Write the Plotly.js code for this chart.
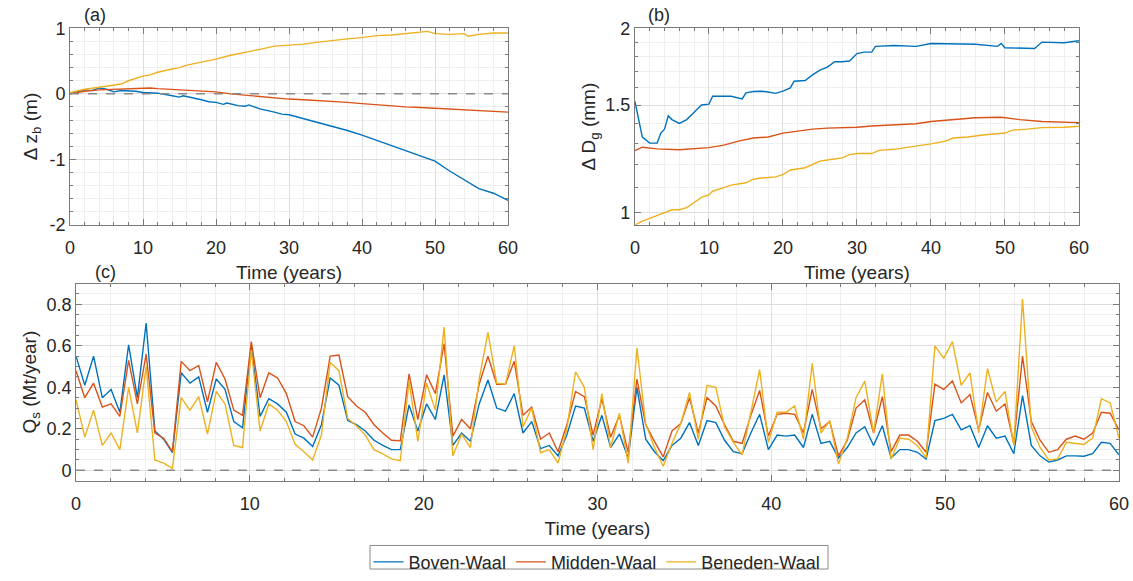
<!DOCTYPE html>
<html>
<head>
<meta charset="utf-8">
<script src="https://cdn.plot.ly/plotly-3.0.1.min.js"></script>
<style>
  html, body { margin: 0; padding: 0; background: #ffffff; }
  #chart { width: 1133px; height: 581px; }
</style>
</head>
<body>
<div id="chart"></div>
<script>
// Waal river reaches
const reaches = ['Boven-Waal', 'Midden-Waal', 'Beneden-Waal'];
const colors = ['#0072BD', '#D95319', '#EDB120'];

// (a) Bed level change Δz_b (m)
const tBedBoven = [0,1,2,3,4,5,6,7,8,9,10,12,14,15,15.5,17,18,19,20,21,21.5,23,24,24.5,26,28,29,30,32,34,36,38,40,42,44,46,48,50,52,54,56,58,60];
const bedBoven  = [0,0.03,0.06,0.05,0.09,0.07,0.03,0.05,0.05,0.04,0.02,0.01,-0.03,-0.05,-0.03,-0.06,-0.09,-0.12,-0.13,-0.16,-0.14,-0.18,-0.19,-0.17,-0.23,-0.28,-0.31,-0.32,-0.38,-0.43,-0.49,-0.56,-0.63,-0.71,-0.78,-0.86,-0.95,-1.03,-1.18,-1.32,-1.45,-1.52,-1.63];
const tBedMidden = [0,2,4,6,8,10,11,12,14,16,18,20,22,24,26,28,30,32,34,36,38,40,42,44,46,48,50,52,54,56,58,60];
const bedMidden  = [0,0.04,0.06,0.07,0.08,0.09,0.09,0.08,0.07,0.05,0.04,0.03,0.0,-0.02,-0.05,-0.07,-0.08,-0.09,-0.1,-0.11,-0.13,-0.15,-0.17,-0.19,-0.2,-0.21,-0.22,-0.235,-0.25,-0.26,-0.27,-0.28];
const tBedBeneden = [0,2,4,6,7,8,9,10,11,12,14,15,16,18,20,22,24,26,28,30,32,34,36,38,40,42,44,46,48,49,50,52,54,54.5,56,58,60];
const bedBeneden  = [0.02,0.07,0.1,0.13,0.15,0.2,0.24,0.27,0.29,0.33,0.38,0.4,0.44,0.48,0.53,0.59,0.63,0.68,0.73,0.74,0.76,0.79,0.82,0.84,0.86,0.89,0.9,0.92,0.94,0.955,0.92,0.91,0.92,0.88,0.91,0.93,0.93];
const bedTicks = [-2, -1, 0, 1];
const bedTickText = ['-2', '-1', '0', '1'];

// (b) Geometric mean grain size D_g (mm)
const tDgBoven = [0,0.5,1,2,3,3.5,4,4.5,5,6,7,8,9,10,10.5,12,13,14.5,15,16,17,18,19,20,21,21.5,23,24,25,26,27,28,29,30,31,32,32.5,35,38,40,44,46,49,49.5,50,52,54,55,58,60];
const dgBoven  = [1.52,1.43,1.33,1.30,1.30,1.35,1.37,1.44,1.42,1.40,1.42,1.46,1.50,1.505,1.55,1.55,1.55,1.535,1.57,1.578,1.58,1.575,1.567,1.58,1.60,1.64,1.645,1.68,1.71,1.73,1.765,1.765,1.77,1.82,1.83,1.83,1.87,1.876,1.87,1.89,1.885,1.885,1.87,1.89,1.86,1.86,1.855,1.90,1.895,1.91];
const tDgMidden = [0,1,3,6,10,12,14,16,18,20,22,24,26,28,30,32,35,38,40,43,46,49.5,52,55,60];
const dgMidden  = [1.264,1.28,1.272,1.268,1.278,1.29,1.31,1.325,1.33,1.35,1.36,1.37,1.375,1.376,1.38,1.386,1.39,1.398,1.41,1.42,1.43,1.433,1.42,1.41,1.404];
const tDgBeneden = [0,1,2,3,4,5,6,7,8,9,10,10.5,12,13,15,16,17,19,20,21,23,24,25,26,28,29,30,32,33,35,37,39,40,42,43,45,47,50,51,53,55,58,60];
const dgBeneden  = [0.955,0.97,0.98,0.99,1.0,1.012,1.012,1.02,1.04,1.06,1.07,1.085,1.10,1.11,1.12,1.135,1.14,1.145,1.155,1.175,1.185,1.20,1.215,1.22,1.23,1.245,1.25,1.25,1.265,1.27,1.28,1.29,1.296,1.31,1.325,1.33,1.34,1.35,1.365,1.37,1.378,1.38,1.385];
const dgTicks = [1, 1.5, 2];
const dgTickText = ['1', '1.5', '2'];
const dgMinorTicks = [1.1, 1.2, 1.3, 1.4, 1.6, 1.7, 1.8, 1.9];

// (c) Sediment transport Q_s (Mt/year), 120 equally spaced outputs over 60 years
const nOut = 120;
const tQs = Array.from({length: nOut}, (_, i) => i * 60 / (nOut - 1));
const qsBoven = [0.55,0.41,0.55,0.35,0.39,0.28,0.605,0.35,0.71,0.19,0.15,0.085,0.47,0.42,0.45,0.28,0.44,0.39,0.235,0.205,
  0.60,0.26,0.345,0.32,0.28,0.175,0.155,0.115,0.22,0.445,0.41,0.24,0.22,0.19,0.145,0.12,0.10,0.10,0.315,0.19,
  0.32,0.245,0.46,0.12,0.18,0.14,0.32,0.435,0.30,0.285,0.37,0.18,0.235,0.105,0.12,0.07,0.17,0.31,0.30,0.14,
  0.265,0.11,0.175,0.06,0.40,0.15,0.09,0.047,0.12,0.155,0.23,0.12,0.24,0.23,0.145,0.09,0.08,0.18,0.27,0.10,
  0.17,0.165,0.17,0.11,0.27,0.13,0.14,0.06,0.11,0.18,0.21,0.12,0.215,0.06,0.10,0.10,0.087,0.055,0.24,0.25,
  0.27,0.195,0.215,0.11,0.215,0.155,0.165,0.08,0.36,0.12,0.07,0.04,0.05,0.07,0.07,0.068,0.08,0.135,0.13,0.075];
const qsMidden = [0.48,0.35,0.42,0.305,0.32,0.26,0.53,0.32,0.56,0.18,0.155,0.09,0.525,0.48,0.505,0.33,0.52,0.44,0.29,0.265,
  0.62,0.35,0.47,0.445,0.37,0.235,0.215,0.16,0.30,0.55,0.555,0.355,0.31,0.28,0.22,0.18,0.145,0.142,0.465,0.245,
  0.46,0.37,0.61,0.165,0.245,0.20,0.415,0.55,0.415,0.415,0.525,0.265,0.305,0.15,0.18,0.09,0.22,0.38,0.355,0.17,
  0.345,0.16,0.265,0.087,0.44,0.22,0.14,0.065,0.19,0.225,0.35,0.18,0.35,0.31,0.22,0.14,0.13,0.265,0.385,0.165,
  0.27,0.275,0.27,0.18,0.39,0.20,0.235,0.07,0.145,0.30,0.34,0.18,0.355,0.09,0.17,0.17,0.14,0.087,0.415,0.39,
  0.43,0.325,0.365,0.195,0.375,0.285,0.32,0.13,0.55,0.235,0.145,0.087,0.10,0.15,0.165,0.15,0.18,0.28,0.275,0.195];
const qsBeneden = [0.34,0.16,0.29,0.12,0.18,0.10,0.40,0.18,0.50,0.05,0.035,0.01,0.35,0.29,0.355,0.175,0.38,0.32,0.12,0.11,
  0.58,0.19,0.32,0.29,0.235,0.125,0.09,0.05,0.17,0.52,0.48,0.25,0.215,0.17,0.10,0.08,0.055,0.047,0.43,0.14,
  0.42,0.29,0.69,0.07,0.175,0.11,0.44,0.665,0.42,0.415,0.60,0.21,0.30,0.085,0.10,0.035,0.20,0.475,0.40,0.10,
  0.37,0.11,0.275,0.035,0.59,0.225,0.11,0.02,0.13,0.225,0.375,0.15,0.41,0.40,0.21,0.135,0.075,0.28,0.485,0.135,
  0.28,0.28,0.31,0.15,0.515,0.18,0.24,0.03,0.155,0.35,0.43,0.18,0.465,0.055,0.155,0.15,0.12,0.06,0.60,0.54,
  0.62,0.41,0.47,0.18,0.49,0.33,0.38,0.12,0.825,0.21,0.11,0.05,0.055,0.135,0.13,0.125,0.155,0.345,0.325,0.155];
const qsTicks = [0, 0.2, 0.4, 0.6, 0.8];
const timeTicks = [0, 10, 20, 30, 40, 50, 60];

const FONT = 'Liberation Sans, Arial, Helvetica, sans-serif';
const TXT = '#262626';
const GRID = '#dedede';
const MINOR = '#efefef';
const AXLINE = '#7a7a7a';
const W = 1133, H = 581;

function line(x, y, i, xa, ya, legend) {
  return {
    x: x, y: y, type: 'scatter', mode: 'lines',
    name: reaches[i], xaxis: xa, yaxis: ya,
    line: {color: colors[i], width: 1.4},
    showlegend: legend, hoverinfo: 'skip'
  };
}

const traces = [
  line(tBedBoven, bedBoven, 0, 'x', 'y', false),
  line(tBedMidden, bedMidden, 1, 'x', 'y', false),
  line(tBedBeneden, bedBeneden, 2, 'x', 'y', false),
  line(tDgBoven, dgBoven, 0, 'x2', 'y2', false),
  line(tDgMidden, dgMidden, 1, 'x2', 'y2', false),
  line(tDgBeneden, dgBeneden, 2, 'x2', 'y2', false),
  line(tQs, qsBoven, 0, 'x3', 'y3', true),
  line(tQs, qsMidden, 1, 'x3', 'y3', true),
  line(tQs, qsBeneden, 2, 'x3', 'y3', true)
];

function axisBase(extra) {
  return Object.assign({
    showline: true, linecolor: AXLINE, linewidth: 1, mirror: 'allticks',
    ticks: 'inside', ticklen: 6, tickcolor: AXLINE, tickwidth: 1,
    showgrid: true, gridcolor: GRID, gridwidth: 1, zeroline: false,
    tickfont: {family: FONT, size: 18, color: TXT},
    automargin: false, fixedrange: true
  }, extra);
}

function timeAxis(domain, anchor, standoff) {
  return axisBase({
    domain: domain, anchor: anchor, range: [0, 60],
    tickmode: 'array', tickvals: timeTicks,
    ticklabelstandoff: 7,
    minor: {dtick: 2, tick0: 0, showgrid: true, gridcolor: MINOR, ticks: 'inside', ticklen: 3, tickcolor: AXLINE},
    title: {text: 'Time (years)', font: {family: FONT, size: 19, color: TXT}, standoff: standoff}
  });
}

const layout = {
  width: W, height: H,
  margin: {l: 0, r: 0, t: 0, b: 0},
  paper_bgcolor: '#ffffff', plot_bgcolor: '#ffffff',
  font: {family: FONT, color: TXT},
  xaxis: timeAxis([0.0618, 0.4484], 'y', 8),
  yaxis: axisBase({
    domain: [0.6059, 0.9501], anchor: 'x', range: [-2, 1],
    tickmode: 'array', tickvals: bedTicks, ticktext: bedTickText,
    minor: {dtick: 0.2, tick0: 0, showgrid: true, gridcolor: MINOR, ticks: 'inside', ticklen: 3, tickcolor: AXLINE},
    title: {text: 'Δ z<sub>b</sub> (m)', font: {family: FONT, size: 19, color: TXT}, standoff: 6}
  }),
  xaxis2: timeAxis([0.5604, 0.9523], 'y2', 8),
  yaxis2: axisBase({
    domain: [0.6059, 0.9501], anchor: 'x2', type: 'log',
    range: [Math.log10(0.957), Math.log10(2)],
    tickmode: 'array', tickvals: dgTicks, ticktext: dgTickText,
    minor: {tickmode: 'array', tickvals: dgMinorTicks, showgrid: true, gridcolor: MINOR, ticks: 'inside', ticklen: 3, tickcolor: AXLINE},
    title: {text: 'Δ D<sub>g</sub> (mm)', font: {family: FONT, size: 19, color: TXT}, standoff: 4}
  }),
  xaxis3: timeAxis([0.0671, 0.9876], 'y3', 8),
  yaxis3: axisBase({
    domain: [0.1566, 0.5026], anchor: 'x3', range: [-0.05, 0.9],
    tickmode: 'array', tickvals: qsTicks,
    minor: {dtick: 0.05, tick0: 0, showgrid: true, gridcolor: MINOR, ticks: 'inside', ticklen: 3, tickcolor: AXLINE},
    title: {text: 'Q<sub>s</sub> (Mt/year)', font: {family: FONT, size: 19, color: TXT}, standoff: 4}
  }),
  shapes: [
    {type: 'line', xref: 'x', yref: 'y', x0: 0, x1: 60, y0: 0, y1: 0,
     line: {color: '#8a8a8a', width: 1.5, dash: 'dash'}},
    {type: 'line', xref: 'x3', yref: 'y3', x0: 0, x1: 60, y0: 0, y1: 0,
     line: {color: '#8a8a8a', width: 1.5, dash: 'dash'}},
    // frame around the legend entries
    {type: 'rect', xref: 'paper', yref: 'paper',
     x0: 370 / W, x1: 828 / W, y0: 1 - 580 / H, y1: 1 - 556 / H,
     line: {color: '#8a8a8a', width: 1}, fillcolor: 'rgba(0,0,0,0)'}
  ],
  annotations: [
    {text: '(a)', xref: 'paper', yref: 'paper', x: 82 / W, y: 1 - 15 / H, xanchor: 'left', yanchor: 'middle',
     showarrow: false, font: {family: FONT, size: 18, color: TXT}},
    {text: '(b)', xref: 'paper', yref: 'paper', x: 646 / W, y: 1 - 15 / H, xanchor: 'left', yanchor: 'middle',
     showarrow: false, font: {family: FONT, size: 18, color: TXT}},
    {text: '(c)', xref: 'paper', yref: 'paper', x: 93 / W, y: 1 - 277 / H, xanchor: 'left', yanchor: 'middle',
     showarrow: false, font: {family: FONT, size: 18, color: TXT}}
  ],
  legend: {
    orientation: 'h', x: 597 / W, xanchor: 'center', y: 1 - 573 / H, yanchor: 'middle',
    borderwidth: 0, bgcolor: 'rgba(0,0,0,0)',
    font: {family: FONT, size: 18, color: TXT},
    itemwidth: 30, tracegroupgap: 0
  },
  showlegend: true
};

Plotly.newPlot('chart', traces, layout, {staticPlot: true, displayModeBar: false});
</script>
</body>
</html>
